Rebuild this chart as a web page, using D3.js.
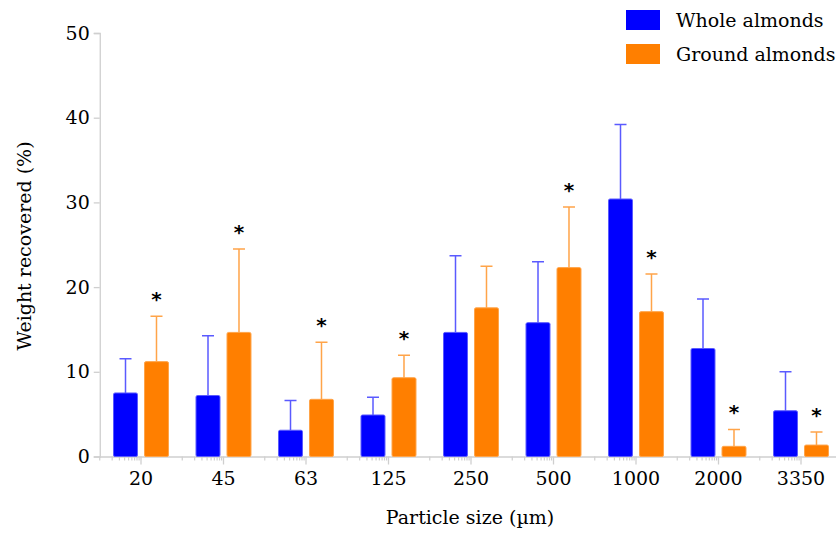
<!DOCTYPE html>
<html>
<head>
<meta charset="utf-8">
<script src="https://cdn.jsdelivr.net/npm/d3@7"></script>
<style>
  body { margin: 0; background: #fff; }
  svg { display: block; font-family: "DejaVu Serif", serif; }
</style>
</head>
<body>
<svg id="chart"></svg>
<script>
const width = 836;
const height = 533;

// particle sizes (µm)
const sizes = ['20', '45', '63', '125', '250', '500', '1000', '2000', '3350'];
const seriesNames = ['Whole almonds', 'Ground almonds'];
// mean weight recovered (%)
const wholeMean = [7.5, 7.2, 3.1, 4.9, 14.65, 15.8, 30.4, 12.75, 5.4];
const groundMean = [11.2, 14.65, 6.75, 9.3, 17.55, 22.3, 17.1, 1.2, 1.35];
// standard deviations (upper bars only)
const wholeSd = [4.05, 7.05, 3.5, 2.1, 9.05, 7.2, 8.8, 5.85, 4.6];
const groundSd = [5.35, 9.85, 6.75, 2.65, 4.9, 7.15, 4.45, 2.0, 1.55];
// significant difference marker on ground almonds
const groundSig = [true, true, true, true, false, true, true, true, true];
const yTicks = [0, 10, 20, 30, 40, 50];

const colors = { whole: '#0000ff', ground: '#ff7f00' };
const errColors = { whole: '#5a5aff', ground: '#ffa449' };

const svg = d3.select('#chart')
    .attr('width', width)
    .attr('height', height);

const x = d3.scaleBand()
    .domain(sizes)
    .range([99.75, 842.25]);

const xInner = d3.scaleBand()
    .domain(['whole', 'ground'])
    .range([0, x.step()])
    .paddingInner(0.226)
    .paddingOuter(0.444);

const y = d3.scaleLinear()
    .domain([0, 50])
    .range([456.5, 33]);

const axisColor = '#cfcfcf';
const textColor = '#000';

// y axis
const yAxis = svg.append('g')
    .attr('transform', `translate(${x.range()[0]},0)`)
    .call(d3.axisLeft(y).tickValues(yTicks).tickSize(6).tickPadding(4));
yAxis.select('.domain').attr('stroke', axisColor).attr('stroke-width', 1.3);
yAxis.selectAll('.tick line').attr('stroke', axisColor).attr('stroke-width', 1.3);
yAxis.selectAll('.tick text')
    .attr('fill', textColor)
    .style('font-size', '19px')
    .style('font-family', '"DejaVu Serif", serif');

// x axis
const xAxis = svg.append('g')
    .attr('transform', `translate(0,${y(0)})`)
    .call(d3.axisBottom(x).tickSize(8).tickPadding(7).tickSizeOuter(0));
xAxis.select('.domain').attr('stroke', axisColor).attr('stroke-width', 1.3);
xAxis.selectAll('.tick line').attr('stroke', axisColor).attr('stroke-width', 1.3);
xAxis.selectAll('.tick text')
    .attr('fill', textColor)
    .style('font-size', '19px')
    .style('font-family', '"DejaVu Serif", serif');

// minor ticks, log-like pattern leading up to each major tick
const minorFrac = d3.range(1, 10).map(k => Math.log10(k));
const minor = [];
sizes.forEach(s => {
    minorFrac.forEach(f => minor.push(x(s) + f * x.bandwidth() / 2));
});
xAxis.selectAll('.minor')
    .data(minor)
    .join('line')
    .attr('class', 'minor')
    .attr('x1', d => d)
    .attr('x2', d => d)
    .attr('y1', 0)
    .attr('y2', 4)
    .attr('stroke', axisColor)
    .attr('stroke-width', 1.2);

// bars
const rows = sizes.map((s, i) => ({
    size: s,
    values: [
        { key: 'whole', mean: wholeMean[i], sd: wholeSd[i], sig: false },
        { key: 'ground', mean: groundMean[i], sd: groundSd[i], sig: groundSig[i] }
    ]
}));

const groups = svg.append('g')
    .selectAll('g')
    .data(rows)
    .join('g')
    .attr('transform', d => `translate(${x(d.size)},0)`);

const bw = xInner.bandwidth();

// error bars (drawn behind bars)
groups.selectAll('.err')
    .data(d => d.values)
    .join('path')
    .attr('class', 'err')
    .attr('fill', 'none')
    .attr('stroke', d => errColors[d.key])
    .attr('stroke-width', 1.5)
    .attr('d', d => {
        const cx = xInner(d.key) + bw / 2;
        const top = y(d.mean + d.sd);
        return `M${cx},${y(d.mean)}V${top}M${cx - 6},${top}H${cx + 6}`;
    });

groups.selectAll('rect')
    .data(d => d.values)
    .join('rect')
    .attr('x', d => xInner(d.key))
    .attr('y', d => y(d.mean))
    .attr('width', bw)
    .attr('height', d => y(0) - y(d.mean))
    .attr('rx', 1.5)
    .attr('fill', d => colors[d.key])
    .attr('stroke', d => errColors[d.key])
    .attr('stroke-width', 1);

// significance asterisks
groups.selectAll('.sig')
    .data(d => d.values.filter(v => v.sig))
    .join('text')
    .attr('class', 'sig')
    .attr('x', d => xInner(d.key) + bw / 2)
    .attr('y', d => y(d.mean + d.sd) - 10)
    .attr('text-anchor', 'middle')
    .attr('fill', '#000')
    .style('font-family', '"DejaVu Sans", sans-serif')
    .style('font-size', '20px')
    .style('font-weight', 'bold')
    .text('*');

// axis titles
svg.append('text')
    .attr('x', 470)
    .attr('y', 524)
    .attr('text-anchor', 'middle')
    .attr('fill', textColor)
    .style('font-size', '19px')
    .text('Particle size (\u00b5m)');

svg.append('text')
    .attr('transform', 'translate(31,246) rotate(-90)')
    .attr('text-anchor', 'middle')
    .attr('fill', textColor)
    .style('font-size', '19px')
    .text('Weight recovered (%)');

// legend
const legend = svg.append('g')
    .selectAll('g')
    .data(seriesNames.map((n, i) => ({ name: n, key: i ? 'ground' : 'whole', i })))
    .join('g')
    .attr('transform', d => `translate(626,${10 + d.i * 34})`);

legend.append('rect')
    .attr('width', 34)
    .attr('height', 20)
    .attr('fill', d => colors[d.key]);

legend.append('text')
    .attr('x', 50)
    .attr('y', 17)
    .attr('fill', textColor)
    .style('font-size', '19px')
    .text(d => d.name);
</script>
</body>
</html>
